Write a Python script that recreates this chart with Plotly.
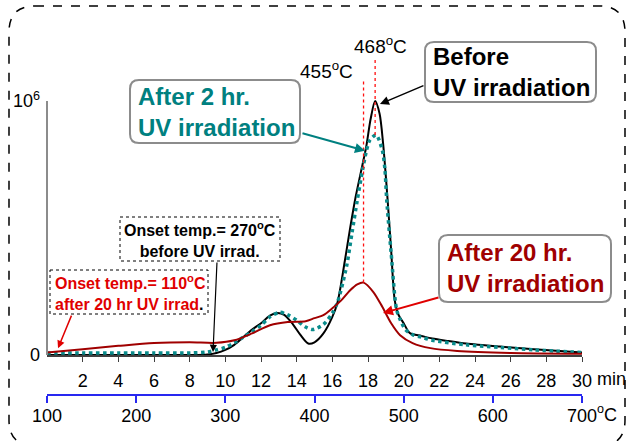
import plotly.graph_objects as go

W, H = 627, 441

# ---------------- data ----------------
black_t = [0, 2, 4, 6, 8, 9, 9.5, 10, 10.5, 11, 11.5, 12, 12.5, 12.9, 13.3, 13.8, 14.2, 14.65,
           15, 15.5, 16, 16.3, 16.7, 17.0, 17.3, 17.6, 17.9, 18.15, 18.4, 18.65, 18.85, 19.1,
           19.3, 19.5, 19.7, 20.0, 20.35, 21.0, 21.6, 22.5, 23.5, 25.4, 27.3, 30]
black_v = [0, 0, 0, 0, 0, 0.002, 0.008, 0.02, 0.04, 0.07, 0.1, 0.125, 0.155, 0.165, 0.158, 0.12,
           0.08, 0.045, 0.05, 0.085, 0.15, 0.21, 0.37, 0.5, 0.62, 0.72, 0.82, 0.93, 1.0, 0.95, 0.83,
           0.61, 0.41, 0.215, 0.16, 0.125, 0.086, 0.075, 0.065, 0.055, 0.045, 0.033, 0.023, 0.01]

teal_t = [0, 2, 4, 6, 8, 9, 9.5, 10, 10.5, 11, 11.5, 12, 12.5, 13.05, 13.5, 14, 14.5, 14.9,
          15.5, 16, 16.3, 16.8, 17.1, 17.4, 17.7, 17.9, 18.1, 18.45, 18.8, 18.95, 19.05, 19.3,
          19.6, 19.8, 20.1, 20.5, 21, 21.6, 23.5, 25.4, 27.3, 30]
teal_v = [0.008, 0.008, 0.008, 0.008, 0.008, 0.012, 0.02, 0.03, 0.048, 0.07, 0.092, 0.117, 0.15,
          0.168, 0.158, 0.137, 0.11, 0.1, 0.12, 0.165, 0.21, 0.35, 0.48, 0.61, 0.73, 0.8, 0.845,
          0.866, 0.807, 0.73, 0.61, 0.4, 0.18, 0.14, 0.1, 0.08, 0.07, 0.058, 0.04, 0.03, 0.02, 0.01]

red_t = [0, 2, 4, 6, 8, 9.5, 10.5, 11.5, 12.5, 13.5, 14.5, 15, 15.5, 16, 16.5, 17, 17.4, 17.75,
         18.3, 18.8, 19.3, 19.8, 20.5, 21.5, 23, 26, 30]
red_v = [0.01, 0.023, 0.036, 0.047, 0.05, 0.048, 0.058, 0.085, 0.117, 0.13, 0.133, 0.145, 0.157,
         0.184, 0.215, 0.255, 0.278, 0.285, 0.248, 0.19, 0.125, 0.078, 0.047, 0.027, 0.016, 0.008,
         0.005]

peak_temps = [455, 468]          # deg C
peak_low = [0.285, 0.866]
peak_high = [1.083, 1.165]

min_ticks = list(range(2, 31, 2))
min_ticktext = [str(v) for v in min_ticks]
temp_ticks = [100, 200, 300, 400, 500, 600, 700]
temp_ticktext = [str(v) for v in temp_ticks]
y_ticks = [0, 1]
y_ticktext = ["0", "10<sup>6</sup>"]

# ---------------- helpers ----------------
FONT = "Liberation Sans, Arial, sans-serif"
TEAL = "#008080"
DARKRED = "#A00000"
RED = "#E00000"
BLUE = "#2828F0"


def px(x):
    return x / W


def py(y):
    return 1 - y / H


def rrect(x0, y0, x1, y1, r):
    pts = [
        ("M", [(x0 + r, y0)]), ("L", [(x1 - r, y0)]), ("Q", [(x1, y0), (x1, y0 + r)]),
        ("L", [(x1, y1 - r)]), ("Q", [(x1, y1), (x1 - r, y1)]), ("L", [(x0 + r, y1)]),
        ("Q", [(x0, y1), (x0, y1 - r)]), ("L", [(x0, y0 + r)]), ("Q", [(x0, y0), (x0 + r, y0)]),
    ]
    s = ""
    for cmd, ps in pts:
        s += cmd + " " + " ".join(f"{px(a):.5f},{py(b):.5f}" for a, b in ps) + " "
    return s + "Z"


fig = go.Figure()

fig.add_trace(go.Scatter(x=black_t, y=black_v, mode="lines", line=dict(color="black", width=2, shape="spline", smoothing=0.8),
                         cliponaxis=False, showlegend=False))
fig.add_trace(go.Scatter(x=teal_t, y=teal_v, mode="lines", line=dict(color="#0A8C8C", width=3.5, dash="dot", shape="spline", smoothing=0.8),
                         cliponaxis=False, showlegend=False))
fig.add_trace(go.Scatter(x=red_t, y=red_v, mode="lines", line=dict(color=DARKRED, width=2, shape="spline", smoothing=0.8),
                         cliponaxis=False, showlegend=False))
for T, lo, hi in zip(peak_temps, peak_low, peak_high):
    fig.add_trace(go.Scatter(x=[T, T], y=[lo, hi], xaxis="x2", mode="lines",
                             line=dict(color="#FF1010", width=1.3, dash="dot"), cliponaxis=False, showlegend=False))

x_dom = [px(47), px(582)]
y0px, y1px = 355, 10
yrange_top = (y0px - y1px) / 254.0

fig.update_layout(
    width=W, height=H, margin=dict(l=0, r=0, t=0, b=0, autoexpand=False),
    paper_bgcolor="white", plot_bgcolor="white",
    font=dict(family=FONT, color="black", size=18),
    xaxis=dict(domain=x_dom, range=[0, 30], tickvals=min_ticks, ticktext=min_ticktext, automargin=False,
               showgrid=False, zeroline=False, showline=True, linecolor="#404040", linewidth=2,
               ticks="outside", ticklen=5, tickcolor="#404040", tickwidth=1,
               tickfont=dict(size=18, family=FONT, color="black"), ticklabelstandoff=3),
    xaxis2=dict(domain=x_dom, range=[100, 700], overlaying="x", anchor="free", position=py(395),
                side="bottom", tickvals=temp_ticks, ticktext=temp_ticktext, automargin=False,
                showgrid=False, zeroline=False, showline=True, linecolor=BLUE, linewidth=1.5,
                ticks="outside", ticklen=7, tickcolor=BLUE, tickwidth=1.5,
                tickfont=dict(size=18, family=FONT, color="black"), ticklabelstandoff=-2),
    yaxis=dict(domain=[py(y0px), py(y1px)], range=[0, yrange_top], tickvals=y_ticks, ticktext=y_ticktext,
               automargin=False, showgrid=False, zeroline=False, showline=False, ticks="",
               tickfont=dict(size=18, family=FONT, color="black"), ticklabelstandoff=6),
)

shapes = []
# y-axis line (0 .. 10^6)
shapes.append(dict(type="line", xref="paper", yref="y", x0=px(47), x1=px(47), y0=0, y1=1,
                   line=dict(color="#8C8C8C", width=2)))
# outer dashed rounded border
shapes.append(dict(type="path", xref="paper", yref="paper", path=rrect(9, 6, 625, 446, 26),
                   line=dict(color="black", width=1.5, dash="dash")))
# rounded label boxes
for (a, b, c, d) in [(130, 80, 300, 143), (425, 42, 596, 102), (439, 235, 611, 302)]:
    shapes.append(dict(type="path", xref="paper", yref="paper", path=rrect(a, b, c, d, 9),
                       line=dict(color="#8C8C8C", width=2), fillcolor="white", layer="above"))
# dotted onset boxes
for (a, b, c, d) in [(120, 217, 280, 261), (50, 270, 208, 314)]:
    shapes.append(dict(type="rect", xref="paper", yref="paper", x0=px(a), x1=px(c), y0=py(b), y1=py(d),
                       line=dict(color="black", width=1, dash="dot"), fillcolor="white", layer="above"))
fig.update_layout(shapes=shapes)

ann = []


def text(x, y, s, size, color, xanchor="left", align="left", bold=True):
    ann.append(dict(xref="paper", yref="paper", x=px(x), y=py(y), text=(f"<b>{s}</b>" if bold else s),
                    showarrow=False, xanchor=xanchor, yanchor="middle", align=align,
                    font=dict(family=FONT, size=size, color=color)))


def arrow(t, v, axp, ayp, color, width, head=2, size=1.0):
    ann.append(dict(xref="x", yref="y", x=t, y=v, ax=axp, ay=ayp, text="", showarrow=True,
                    arrowcolor=color, arrowwidth=width, arrowhead=head, arrowsize=size, standoff=0))


# arrows (head at data point, tail offset in px)
arrow(17.83, 0.804, -64, -18, TEAL, 2, 2, 1.0)
arrow(18.67, 0.988, 45, -19, "black", 1.5, 2, 1.2)
arrow(18.84, 0.165, 57, -16, RED, 2, 2, 1.0)
arrow(9.31, 0.012, 4, -91, "black", 1.2, 2, 1.2)
arrow(0.62, 0.027, 14, -34, RED, 1.5, 2, 1.0)

text(136, 112, "After 2 hr.<br>UV irradiation", 24, TEAL)
text(431, 72, "Before<br>UV irradiation", 24, "black")
text(445, 268, "After 20 hr.<br>UV irradiation", 24, DARKRED)
text(200, 239, "Onset temp.= 270<sup>o</sup>C<br>before UV irrad.", 16, "black", xanchor="center", align="center")
text(53, 292, "Onset temp.= 110<sup>o</sup>C<br>after 20 hr UV irrad<span style='color:black'>.</span>", 16, RED)

text(298, 70, "455<sup>o</sup>C", 19, "black", bold=False)
text(352, 45, "468<sup>o</sup>C", 19, "black", bold=False)
text(595, 379, "min", 18, "black", bold=False)
text(595, 413, "<sup>o</sup>C", 18, "black", bold=False)

fig.update_layout(annotations=ann)

fig.write_html("out.html", config={"displayModeBar": False},
               post_script="document.body.style.margin='0';document.body.style.overflow='hidden';")
